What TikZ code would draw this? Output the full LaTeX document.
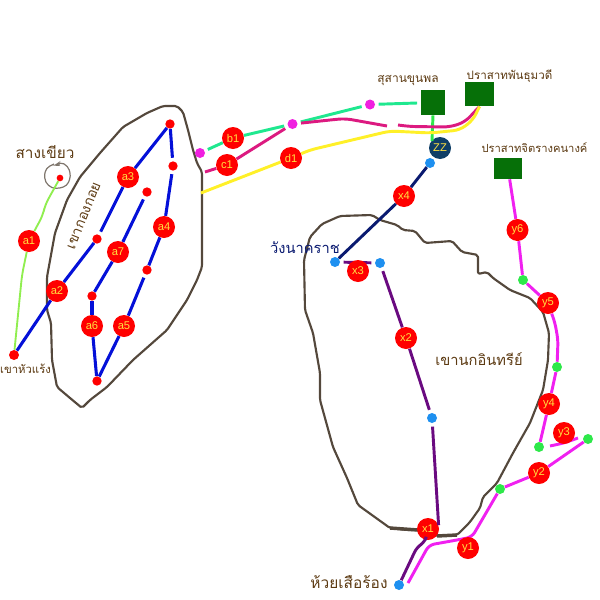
\documentclass[tikz,border=0pt]{standalone}
\usepackage{fontspec}
\setmainfont{Liberation Sans}
\newfontfamily\thaifont[Script=Thai]{Loma}
\definecolor{dotblue}{HTML}{1E90F0}
\definecolor{dotgreen}{HTML}{2EE84A}
\definecolor{dotpink}{HTML}{F020E0}
\definecolor{ruingreen}{HTML}{067008}
\definecolor{labelbrown}{HTML}{5C3A12}
\definecolor{hillgrey}{HTML}{54483C}
\definecolor{routeblue}{HTML}{0410D8}
\definecolor{routepurple}{HTML}{6A0A80}
\definecolor{routemag}{HTML}{F020F0}
\definecolor{routerose}{HTML}{DC1A80}
\definecolor{routeyellow}{HTML}{FFF028}
\definecolor{routesea}{HTML}{1FE88F}
\definecolor{routenavy}{HTML}{0A1A70}
\definecolor{zzblue}{HTML}{0F3E66}
\definecolor{limeline}{HTML}{90EE50}
\definecolor{labelyellow}{HTML}{FFE040}
\begin{document}
\begin{tikzpicture}[x=0.75pt,y=-0.75pt,
  big/.style={circle,fill=red,inner sep=0pt,minimum size=16.5pt,text=labelyellow,font=\fontsize{8.4}{8.4}\selectfont},
  dotr/.style={circle,fill=red,inner sep=0pt,minimum size=7pt},
  dotp/.style={circle,fill=dotpink,inner sep=0pt,minimum size=7.5pt},
  dotb/.style={circle,fill=dotblue,inner sep=0pt,minimum size=7.5pt},
  dotg/.style={circle,fill=dotgreen,inner sep=0pt,minimum size=7.5pt},
  ruin/.style={rectangle,fill=ruingreen,inner sep=0pt},
  thl/.style={font=\thaifont\fontsize{9}{9}\selectfont,text=labelbrown,inner sep=0pt},
  hill/.style={draw=hillgrey,line width=1.6pt,line join=round,rounded corners=1.5pt},
  bl/.style={draw=routeblue,line width=2.3pt},
  pur/.style={draw=routepurple,line width=2.2pt},
  mag/.style={draw=routemag,line width=2.2pt,rounded corners=4pt},
  rose/.style={draw=routerose,line width=2.2pt,rounded corners=5pt},
  yel/.style={draw=routeyellow,line width=2.2pt,rounded corners=5pt},
  sea/.style={draw=routesea,line width=2.2pt},
  lime/.style={draw=limeline,line width=1.4pt,rounded corners=5pt},
  gapa/.style={shorten <=2.5pt},
  gapb/.style={shorten >=2.5pt},
  ]
\useasboundingbox (0,0) rectangle (600,600);
% hills
\draw[hill] (177,106) -- (183,112) -- (188,130) -- (193,150) -- (197,163) -- (202,172) -- (202,267) -- (197,280) -- (187,300) -- (167,330) -- (133,360) -- (107,387) -- (90,400) -- (82,408) -- (70,398) -- (57,387) -- (52,360) -- (51,323) -- (47,310) -- (47,277) -- (55,233) -- (67,200) -- (80,177) -- (100,153) -- (123,127) -- (147,113) -- (163,106) -- cycle;
\draw[hill] (372,215) -- (380,220) -- (397,225) -- (403,230) -- (415,231) -- (425,243) -- (452,241) -- (462,252) -- (478,255) -- (478,274) -- (487,272) -- (493,278) -- (510,290) -- (530,298) -- (543,312) -- (549,333) -- (548,360) -- (543,390) -- (530,423) -- (513,453) -- (497,483) -- (483,497) -- (480,508) -- (470,522) -- (457,535) -- (437,536) -- (418,530) -- (407,530) -- (390,528) -- (358,505) -- (347,478) -- (333,447) -- (320,400) -- (320,373) -- (313,333) -- (305,310) -- (304,260) -- (310,237) -- (322,224) -- (340,216) -- cycle;
\draw[draw=hillgrey,line width=2.6pt] (390,528) -- (418,530);
\draw[draw=hillgrey,line width=2.6pt] (437,536) -- (457,535);
\draw[draw=hillgrey!75,line width=0.9pt,rounded corners=3pt] (54,164) -- (46,168) -- (44,178) -- (48,186) -- (56,189) -- (67,186) -- (71,176) -- (68,166) -- (60,162) -- (54,166) -- (60,165);
% nodes
\node[dotr,minimum size=5pt] (skh) at (60,178) {};
\node[dotr,minimum size=7.5pt] (hr) at (14,355) {};
\node[dotr] (p1) at (170,124) {};
\node[dotr] (p2) at (173,166) {};
\node[dotr] (p3) at (147,192) {};
\node[dotr] (p4) at (97,239) {};
\node[dotr] (p5) at (147,270) {};
\node[dotr] (p6) at (92,296) {};
\node[dotr] (p7) at (97,381) {};
\node[big] (a1) at (29,241) {a1};
\node[big] (a2) at (57,291) {a2};
\node[big] (a3) at (128,177) {a3};
\node[big] (a4) at (164,227) {a4};
\node[big] (a5) at (124,326) {a5};
\node[big] (a6) at (92,326) {a6};
\node[big] (a7) at (118,252) {a7};
\node[dotp] (m1) at (200,153) {};
\node[dotp] (m2) at (292.5,124) {};
\node[dotp] (m3) at (370,104.5) {};
\node[big] (b1) at (233,138) {b1};
\node[big] (c1) at (227,165) {c1};
\node[big] (d1) at (291,158) {d1};
\node[ruin,minimum width=18.5pt,minimum height=18.8pt] (r1) at (433,102.5) {};
\node[ruin,minimum width=21.8pt,minimum height=18.4pt] (r2) at (479.5,94) {};
\node[ruin,minimum width=21pt,minimum height=15.8pt] (r3) at (508,168.5) {};
\node[big,fill=zzblue] (zz) at (440,148) {ZZ};
\node[dotb] (n1) at (430,163) {};
\node[dotb] (n2) at (335,262) {};
\node[dotb] (n3) at (380,263) {};
\node[dotb] (n4) at (432,418) {};
\node[dotb] (n5) at (399,585) {};
\node[big] (x1) at (428,529) {x1};
\node[big] (x2) at (406,338) {x2};
\node[big] (x4) at (404,196) {x4};
\node[dotg] (g1) at (500,489) {};
\node[dotg] (g2) at (588,439) {};
\node[dotg] (g3) at (539,447) {};
\node[dotg] (g4) at (557,367) {};
\node[dotg] (g5) at (523,280) {};
\node[big] (y2) at (539,473) {y2};
\node[big] (y4) at (549,404) {y4};
\node[big] (y5) at (548,303) {y5};
\node[big] (y6) at (517.5,230) {y6};
\coordinate (e1) at (408,583);
\coordinate (e2) at (550,446);
\coordinate (e3) at (578,438);
\coordinate (e4) at (201,193);
\coordinate (e5) at (205,172);
\coordinate (e6) at (398,125);
\coordinate (e7) at (387,126);
% connectors
\draw[lime] (skh) -- (45,205) -- (43,215) -- (a1);
\draw[lime] (a1) -- (22,275) -- (hr);
\draw[bl] (hr) -- (a2);
\draw[bl] (a2) -- (p4);
\draw[bl,gapa] (p4) -- (a3);
\draw[bl] (a3) -- (p1);
\draw[bl,gapb] (p1) -- (p2);
\draw[bl,gapa] (p2) -- (a4);
\draw[bl] (a4) -- (p5);
\draw[bl,gapa] (p5) -- (a5);
\draw[bl] (a5) -- (p7);
\draw[bl] (p7) -- (a6);
\draw[bl] (a6) -- (p6);
\draw[bl] (p6) -- (a7);
\draw[bl,gapb] (a7) -- (p3);
\draw[draw=dotgreen,line width=2.2pt] (r1.south) -- (432,141);
\draw[sea,gapa] (m1) -- (b1);
\draw[sea,gapb] (b1) -- (m2);
\draw[sea,gapa,gapb] (m2) -- (m3);
\draw[sea,gapa,gapb] (m3) -- (r1);
\draw[rose] (e5) -- (c1);
\draw[rose,gapb] (c1) -- (m2);
\draw[rose,gapa] (m2) -- (330,120) -- (345,118.5) -- (e7);
\draw[rose] (e6) -- (410,126.5) -- (450,127) -- (465,122) -- (r2.south);
\draw[yel] (e4) -- (d1);
\draw[yel] (d1) -- (310,150) -- (390,131) -- (430,133) -- (460,130) -- (473,120) -- (r2.south);
\draw[draw=routenavy,line width=2.2pt] (n1) -- (x4);
\draw[draw=routenavy,line width=2.2pt] (x4) -- (n2);
\draw[pur,gapa,gapb] (n2) -- (n3);
\draw[pur,gapa] (n3) -- (x2);
\draw[pur,gapb] (x2) -- (n4);
\draw[pur,gapa] (n4) -- (x1.20);
\draw[pur,rounded corners=4pt] (x1) -- (425,542) -- (417,547) -- (n5);
\draw[mag] (e1) -- (429,545) -- (457,540) -- (472,537) -- (g1);
\draw[mag] (g1) -- (y2);
\draw[mag] (y2) -- (g2);
\draw[mag] (e2) -- (564,443) -- (e3);
\draw[mag] (g3) -- (y4);
\draw[mag] (y4) -- (g4);
\draw[mag] (g4) -- (558,340) -- (555,323) -- (y5);
\draw[mag] (y5) -- (g5);
\draw[mag] (g5) -- (y6);
\draw[mag] (y6) -- (r3);
% circles that lie over a connector
\node[big] (x3) at (358,271) {x3};
\node[big] (y1) at (468,548) {y1};
\node[big] (y3) at (564,433) {y3};
% labels
\node[thl,font=\thaifont\fontsize{11.5}{11.5}\selectfont] (t1) at (45,152) {สางเขียว};
\node[thl,font=\thaifont\fontsize{8.5}{8.5}\selectfont] (t2) at (25.5,369) {เขาหัวแร้ง};
\node[thl,font=\thaifont\fontsize{10.5}{10.5}\selectfont,rotate=68] (t3) at (84,216) {เขากองกอย};
\node[thl] (t4) at (408,81) {สุสานขุนพล};
\node[thl,font=\thaifont\fontsize{8.7}{8.7}\selectfont] (t5) at (509.5,76) {ปราสาทพันธุมวดี};
\node[thl,font=\thaifont\fontsize{8.4}{8.4}\selectfont] (t6) at (534.5,148) {ปราสาทจิตรางคนางค์};
\node[thl,text=routenavy,font=\thaifont\fontsize{11}{11}\selectfont] (t7) at (305,248) {วังนาคราช};
\node[thl,font=\thaifont\fontsize{11}{11}\selectfont] (t8) at (479,359) {เขานกอินทรีย์};
\node[thl,font=\thaifont\fontsize{11.6}{11.6}\selectfont] (t9) at (349,582) {ห้วยเสือร้อง};
\end{tikzpicture}
\end{document}
